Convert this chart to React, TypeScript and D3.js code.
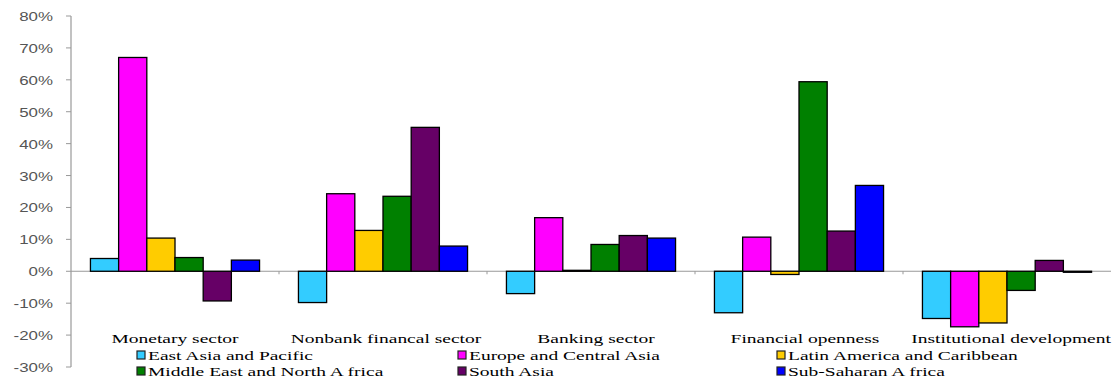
import { scaleBand, scaleLinear, range } from 'd3';

// Grouped bar chart: regional change by financial-sector dimension.
const categories = ['Monetary sector', 'Nonbank financal sector', 'Banking sector', 'Financial openness', 'Institutional development'];
const regions = ['East Asia and Pacific', 'Europe and Central Asia', 'Latin America and Caribbean', 'Middle East and North A frica', 'South Asia', 'Sub-Saharan A frica'];
const colors = ['#33CCFF', '#FF00FF', '#FFCC00', '#008000', '#660066', '#0000FF'];

const eastAsia = [0.04, -0.098, -0.07, -0.13, -0.148];
const europe = [0.67, 0.243, 0.168, 0.107, -0.174];
const latAm = [0.104, 0.128, 0.003, -0.01, -0.162];
const mena = [0.043, 0.235, 0.084, 0.594, -0.06];
const southAsia = [-0.093, 0.451, 0.112, 0.126, 0.034];
const ssa = [0.035, 0.079, 0.104, 0.269, -0.003];
const series = [eastAsia, europe, latAm, mena, southAsia, ssa];

const yTicks = range(-0.3, 0.81, 0.1);

const W = 1117;
const H = 382;
const m = { left: 71, right: 6, top: 16, bottom: 15 };

// the source image is stretched sideways, so text is scaled on x only
function Stretch({ x, y, sx = 1.4, anchor = 'start', size = 13, family = '"Liberation Serif", serif', fill = '#000', children }: any) {
  return (
    <g transform={`translate(${x},${y}) scale(${sx},1)`}>
      <text textAnchor={anchor} fill={fill} style={{ fontSize: size, fontFamily: family }}>
        {children}
      </text>
    </g>
  );
}

export default function App() {
  const x0 = scaleBand<string>().domain(categories).range([m.left, W - m.right]);
  const x1 = scaleBand<number>().domain(range(regions.length)).range([0, x0.bandwidth()]).paddingInner(0).paddingOuter(0.69);
  const y = scaleLinear().domain([-0.3, 0.8]).range([H - m.bottom, m.top]);
  const zero = y(0);

  const labelShift = [0, 3, 5, 6, 4];
  const legendCols = [137, 458, 777];
  const legendRows = [360, 376];

  return (
    <svg width={W} height={H} style={{ position: 'absolute', left: 0, top: 0, background: '#fff' }}>
      {/* y axis */}
      <line x1={m.left} x2={m.left} y1={y(0.8)} y2={y(-0.3)} stroke="#999" strokeWidth={1.2} />
      {yTicks.map((t) => (
        <g key={t.toFixed(1)}>
          <line x1={m.left - 5} x2={m.left} y1={y(t)} y2={y(t)} stroke="#999" strokeWidth={1} />
          <Stretch x={53} y={y(t) + 5} anchor="end" sx={1.3} size={13} family='"Liberation Sans", Arial, sans-serif' fill="#555">
            {`${Math.round(t * 100)}%`}
          </Stretch>
        </g>
      ))}

      {/* zero line with category ticks */}
      <line x1={m.left} x2={W - m.right} y1={zero} y2={zero} stroke="#999" strokeWidth={1.2} />
      {categories.slice(1).map((c) => (
        <line key={c} x1={x0(c)!} x2={x0(c)!} y1={zero} y2={zero + 3} stroke="#999" strokeWidth={1} />
      ))}

      {/* bars */}
      {categories.map((c, ci) => (
        <g key={c}>
          {series.map((s, si) => {
            const v = s[ci]!;
            return (
              <rect
                key={si}
                x={x0(c)! + x1(si)!}
                y={Math.min(y(v), zero)}
                width={x1.bandwidth()}
                height={Math.max(1, Math.abs(y(v) - zero))}
                fill={colors[si]}
                stroke="#000"
                strokeWidth={1.3}
              />
            );
          })}
        </g>
      ))}

      {/* category labels */}
      {categories.map((c, i) => (
        <Stretch key={c} x={x0(c)! + x0.bandwidth() / 2 + labelShift[i]!} y={343} anchor="middle" sx={1.5}>
          {c}
        </Stretch>
      ))}

      {/* legend */}
      {regions.map((r, i) => {
        const lx = legendCols[i % 3]!;
        const ly = legendRows[Math.floor(i / 3)]!;
        return (
          <g key={r}>
            <rect x={lx} y={ly - 9} width={8} height={8} fill={colors[i]} stroke="#222" strokeWidth={1.2} />
            <Stretch x={lx + 11} y={ly} sx={1.56} size={12.5}>
              {r}
            </Stretch>
          </g>
        );
      })}
    </svg>
  );
}
